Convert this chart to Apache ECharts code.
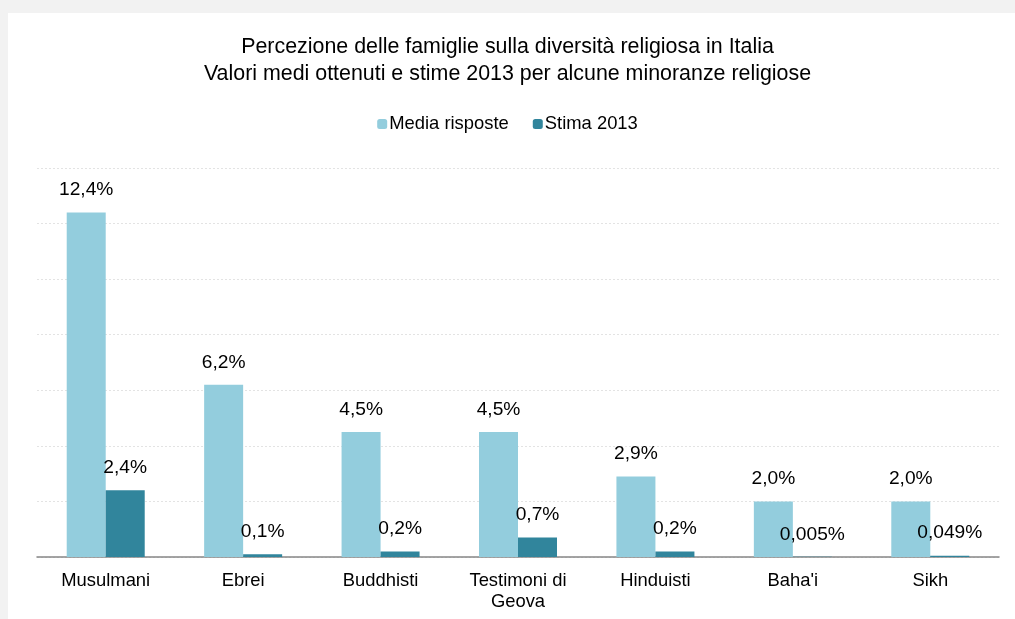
<!DOCTYPE html>
<html>
<head>
<meta charset="utf-8">
<script src="https://cdn.jsdelivr.net/npm/echarts@6/dist/echarts.min.js"></script>
<style>
  html, body { margin: 0; padding: 0; background: #f2f2f2; }
  #chart { width: 1015px; height: 619px; }
</style>
</head>
<body>
<div id="chart"></div>
<script>
// Religious minorities shown on the category axis
const categories = ['Musulmani', 'Ebrei', 'Buddhisti', 'Testimoni di\nGeova', 'Hinduisti', "Baha'i", 'Sikh'];
// Average of the families' answers (%)
const mediaRisposte = [12.4, 6.2, 4.5, 4.5, 2.9, 2.0, 2.0];
// 2013 estimate (%)
const stima2013 = [2.4, 0.1, 0.2, 0.7, 0.2, 0.005, 0.049];

const fmt = v => (v < 0.1 ? v.toFixed(3) : v.toFixed(1)).replace('.', ',') + '%';
const FONT = 'Liberation Sans, Arial, sans-serif';

const chart = echarts.init(document.getElementById('chart'));
chart.setOption({
  backgroundColor: '#f2f2f2',
  animation: false,
  graphic: [{
    type: 'rect', z: -10, silent: true,
    shape: { x: 8, y: 13, width: 1007, height: 606 },
    style: { fill: '#ffffff' }
  }],
  title: {
    text: 'Percezione delle famiglie sulla diversità religiosa in Italia\nValori medi ottenuti e stime 2013 per alcune minoranze religiose',
    left: 'center', top: 29,
    textStyle: { fontFamily: FONT, fontSize: 21.4, fontWeight: 'normal', color: '#000', lineHeight: 27 }
  },
  legend: {
    top: 110, left: 'center',
    itemWidth: 10, itemHeight: 10, itemGap: 24,
    textStyle: { fontFamily: FONT, fontSize: 18.4, color: '#000', padding: [0, 0, 0, -3] },
    data: ['Media risposte', 'Stima 2013']
  },
  grid: { left: 37, right: 16, top: 168, bottom: 62 },
  xAxis: {
    type: 'category',
    data: categories,
    axisLine: { lineStyle: { color: '#868686', width: 1.5 } },
    axisTick: { length: 6, lineStyle: { color: '#868686', width: 1.5 } },
    axisLabel: { fontFamily: FONT, fontSize: 18.4, color: '#000', margin: 13, lineHeight: 21 }
  },
  yAxis: {
    type: 'value', min: 0, max: 14, interval: 2,
    axisLine: { show: false }, axisTick: { show: false }, axisLabel: { show: false },
    splitLine: { lineStyle: { color: '#e3e3e3', type: [2, 2], width: 1 } }
  },
  series: [
    {
      name: 'Media risposte', type: 'bar', data: mediaRisposte,
      barWidth: 39, barGap: '0%',
      itemStyle: { color: '#93CDDD' },
      label: { show: true, position: 'top', distance: 13, formatter: p => fmt(p.value),
               fontFamily: FONT, fontSize: 19.2, color: '#000' }
    },
    {
      name: 'Stima 2013', type: 'bar', data: stima2013,
      barWidth: 39,
      itemStyle: { color: '#31859C' },
      label: { show: true, position: 'top', distance: 13, formatter: p => fmt(p.value),
               fontFamily: FONT, fontSize: 19.2, color: '#000' }
    }
  ]
});
</script>
</body>
</html>
